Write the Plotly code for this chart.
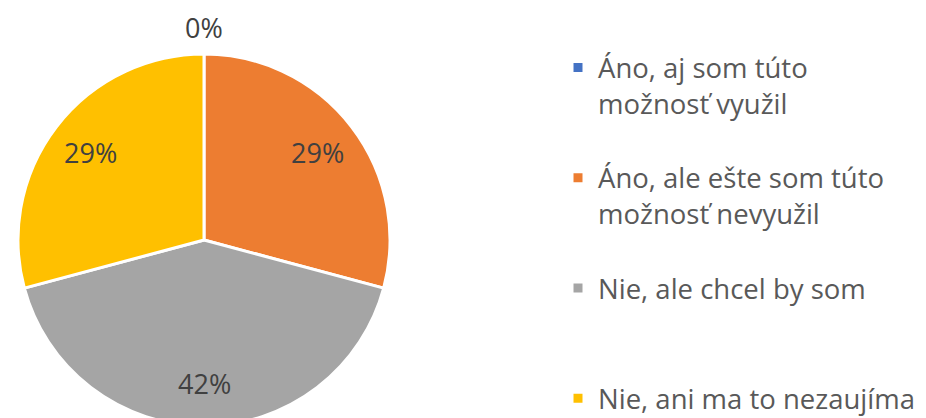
import numpy as np
import plotly.graph_objects as go

# survey answers (counts read as shares of 24 responses)
labels = [
    "Áno, aj som túto<br>možnosť využil",
    "Áno, ale ešte som túto<br>možnosť nevyužil",
    "Nie, ale chcel by som",
    "Nie, ani ma to nezaujíma",
]
values = [0, 7, 10, 7]
colors = ["#4472C4", "#ED7D31", "#A5A5A5", "#FFC000"]

W, H = 926, 426  # bottom of the pie runs past the 418px window, as in the source
top = 54
size = H - top
cx, cy, r = 204, top + size / 2, size / 2

# pad legend entries so every entry takes the same height
pad = []
for i, lab in enumerate(labels):
    n = lab.count("<br>") + 1
    if i < len(labels) - 1:
        lab = lab + "<br> " * (3 - n)
    pad.append(lab)

fig = go.Figure(
    go.Pie(
        labels=pad,
        values=values,
        sort=False,
        direction="clockwise",
        rotation=0,
        marker=dict(colors=colors, line=dict(color="white", width=3)),
        textinfo="none",
        domain=dict(x=[(cx - r) / W, (cx + r) / W], y=[0, 1]),
        showlegend=True,
        hoverinfo="label+percent",
    )
)

# percentage labels placed like the spreadsheet does (inside at ~0.77r, zero slice outside)
total = sum(values)
start = 0.0
for v in values:
    frac = v / total
    mid = (start + frac / 2) * 2 * np.pi
    start += frac
    dist = r * 0.77 if v > 0 else r + 27
    px = cx + dist * np.sin(mid)
    py = cy - dist * np.cos(mid)
    fig.add_annotation(
        x=px / W,
        y=1 - (py - top) / size,
        xref="paper",
        yref="paper",
        xanchor="center",
        yanchor="middle",
        text=f"{round(frac * 100)}%",
        showarrow=False,
        font=dict(family="Open Sans", size=27, color="#404040"),
    )

fig.update_layout(
    width=W,
    height=H,
    margin=dict(l=0, r=0, t=top, b=0),
    paper_bgcolor="white",
    plot_bgcolor="white",
    font=dict(family="Open Sans", color="#595959"),
    legend=dict(
        x=558 / W,
        y=1 + 11 / size,
        xanchor="left",
        yanchor="top",
        valign="top",
        maxheight=2000,
        font=dict(family="Open Sans", size=27.5, color="#595959"),
        bgcolor="rgba(0,0,0,0)",
    ),
)

fig.write_html(
    "out.html",
    config={"displayModeBar": False},
    post_script="document.body.style.margin='0';",
)
